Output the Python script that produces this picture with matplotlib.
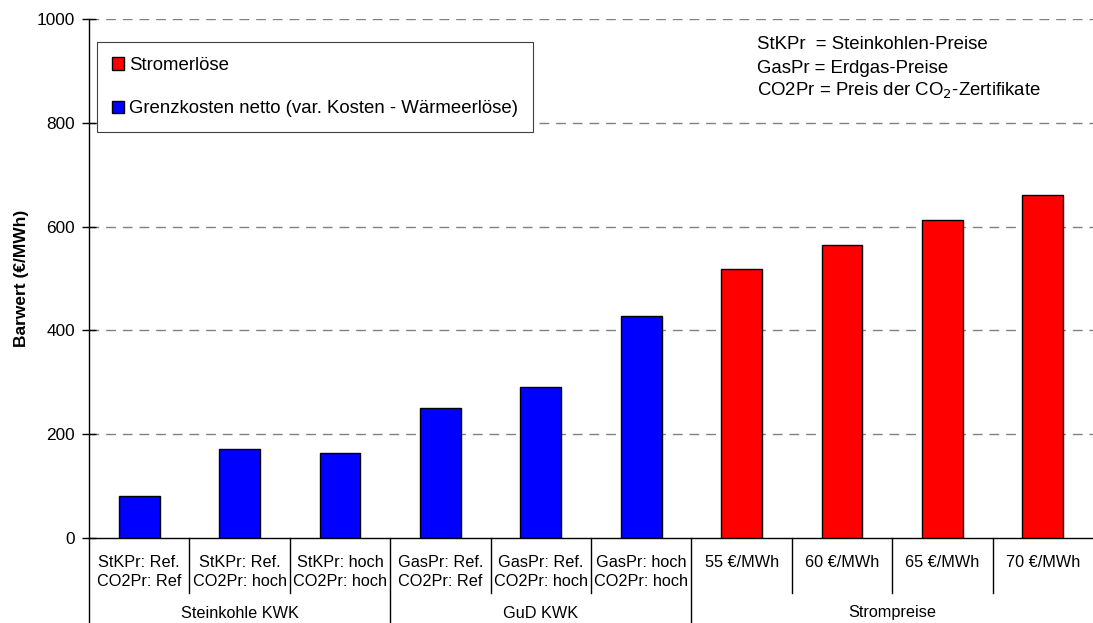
import matplotlib
matplotlib.use("Agg")
import matplotlib.pyplot as plt

plt.rcParams['font.family'] = ['Liberation Sans', 'DejaVu Sans']

categories = ["StKPr: Ref.\nCO2Pr: Ref", "StKPr: Ref.\nCO2Pr: hoch", "StKPr: hoch\nCO2Pr: hoch",
              "GasPr: Ref.\nCO2Pr: Ref", "GasPr: Ref.\nCO2Pr: hoch", "GasPr: hoch\nCO2Pr: hoch",
              "55 €/MWh", "60 €/MWh", "65 €/MWh", "70 €/MWh"]
grenzkosten = [81, 172, 164, 250, 291, 428]
stromerloese = [518, 565, 613, 660]
groups = ["Steinkohle KWK", "GuD KWK", "Strompreise"]
group_sizes = [3, 3, 4]
yticks = [0, 200, 400, 600, 800, 1000]
notes = ["StKPr  = Steinkohlen-Preise", "GasPr = Erdgas-Preise",
         "CO2Pr = Preis der CO$_2$-Zertifikate"]

W, H = 1093, 623
AX_H = 519
fig = plt.figure(figsize=(W / 100, H / 100), dpi=100)
ax = fig.add_axes([89 / W, (H - 538) / H, (W - 89) / W, AX_H / H])

xb = list(range(len(grenzkosten)))
xr = list(range(len(grenzkosten), len(grenzkosten) + len(stromerloese)))
ax.bar(xr, stromerloese, width=0.405, color='#ff0000', edgecolor='black', linewidth=1,
       label='Stromerlöse', zorder=3)
ax.bar(xb, grenzkosten, width=0.405, color='#0000ff', edgecolor='black', linewidth=1,
       label='Grenzkosten netto (var. Kosten - Wärmeerlöse)', zorder=3)

ax.set_xlim(-0.5, len(categories) - 0.5)
ax.set_ylim(0, 1000)
ax.set_yticks(yticks)
ax.set_xticks([])
ax.tick_params(axis='y', direction='inout', length=10, width=1, labelsize=12.4, pad=5)
for s in ['top', 'right']:
    ax.spines[s].set_visible(False)
ax.spines['left'].set_linewidth(1)
ax.spines['bottom'].set_linewidth(1)
for y in yticks[1:]:
    ax.axhline(y, color='#808080', linestyle=(0, (7, 5)), linewidth=1, zorder=1)

ax.set_ylabel('Barwert (€/MWh)', fontsize=12.5, fontweight='bold', labelpad=6)

# category table below axis
tr = ax.get_xaxis_transform()
row_h = 55 / AX_H
full_h = 85 / AX_H
for i, lab in enumerate(categories):
    for j, line in enumerate(lab.split("\n")):
        ax.text(i, -(24.5 + 19 * j) / AX_H, line, transform=tr, ha='center', va='center',
                fontsize=11.7)
bounds = [-0.5]
acc = -0.5
for g in group_sizes:
    acc += g
    bounds.append(acc)
for k in range(1, len(categories)):
    b = k - 0.5
    ymin = -full_h if b in bounds else -row_h
    ax.plot([b, b], [0, ymin], transform=tr, color='black', linewidth=1, clip_on=False)
ax.plot([-0.5, -0.5], [0, -full_h], transform=tr, color='black', linewidth=1, clip_on=False)
for gi, name in enumerate(groups):
    c = (bounds[gi] + bounds[gi + 1]) / 2
    ax.text(c, -75 / AX_H, name, transform=tr, ha='center', va='center', fontsize=11.7)

leg = ax.legend(loc='upper left', bbox_to_anchor=(8 / 1004, 1 - 23 / AX_H), fontsize=13.4,
                frameon=True, fancybox=False, edgecolor='black', framealpha=1,
                handlelength=0.65, handleheight=0.65, handletextpad=0.25, labelspacing=1.42,
                borderpad=0.8, borderaxespad=0)
leg.get_frame().set_linewidth(0.8)
leg.get_frame().set_edgecolor('#404040')

for k, (note, yb) in enumerate(zip(notes, [49, 72.7, 95.7])):
    ax.text(668 / 1004, 1 - (yb - 19) / AX_H, note, transform=ax.transAxes,
            ha='left', va='baseline', fontsize=13.4)

fig.savefig('out.png', dpi=100)
